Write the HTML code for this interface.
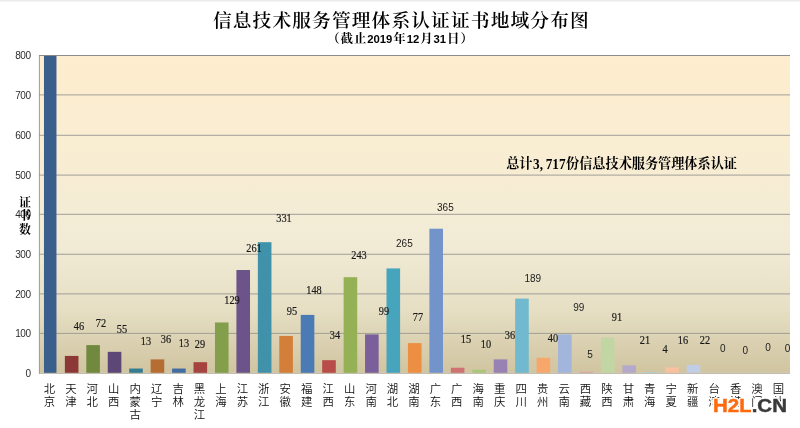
<!DOCTYPE html>
<html lang="zh-CN">
<head>
<meta charset="utf-8">
<title>信息技术服务管理体系认证证书地域分布图</title>
<style>
html,body{margin:0;padding:0;background:#fff;}
body{width:800px;height:428px;position:relative;overflow:hidden;font-family:"Liberation Sans","Noto Sans CJK SC",sans-serif;color:#000;}
.abs{position:absolute;white-space:nowrap;}
#topline{left:0;top:0;width:800px;height:2.4px;background:linear-gradient(#e8e8e8,#eeeeee 55%,#fff);}
#title{left:0.8px;width:800px;top:6.5px;text-align:center;font-family:"Liberation Serif","Noto Serif CJK SC",serif;font-weight:600;font-size:18.7px;line-height:28px;letter-spacing:1.15px;padding-left:1.15px;box-sizing:border-box;}
#sub{left:0;width:801px;top:30px;text-align:center;font-family:"Liberation Sans","Noto Serif CJK SC",serif;font-weight:700;font-size:12.4px;line-height:18px;letter-spacing:0.95px;}
#sub b{font-size:11.3px;letter-spacing:0;margin-right:0.95px;}
.yt{font-size:10px;line-height:12px;width:30.7px;left:0;text-align:right;color:#2e2e2e;letter-spacing:-0.4px;}
.ytitle{font-family:"Liberation Serif","Noto Serif CJK SC",serif;font-weight:700;font-size:12px;line-height:13.3px;left:13px;width:24px;text-align:center;white-space:normal;}
.cat{font-family:"Liberation Sans","Noto Sans CJK SC",sans-serif;font-weight:350;font-size:11.4px;line-height:13.0px;width:22px;text-align:center;white-space:normal;top:382.5px;color:#111;}
.dl{font-size:10px;line-height:12px;width:30px;text-align:center;color:#1c1c1c;}
.dl.s{font-family:"Liberation Serif",serif;font-size:12px;transform:scaleX(0.86);-webkit-text-stroke:0.2px #111;}
.dl.a{font-family:"Liberation Sans",sans-serif;font-size:10px;}
#note{left:506.2px;top:155.4px;font-family:"Liberation Serif","Noto Serif CJK SC",serif;font-weight:700;font-size:13.15px;line-height:18px;letter-spacing:0;}
#note .n{display:inline-block;width:33.6px;height:18px;vertical-align:top;}
#note .n i{display:inline-block;font-style:normal;font-size:15.6px;line-height:18px;transform-origin:0 50%;transform:scaleX(0.85);position:relative;top:-0.4px;left:0.5px;}
#note .n u{text-decoration:none;letter-spacing:3.2px;}
#wm{left:713.2px;top:394.2px;font-family:"Liberation Sans",sans-serif;font-weight:700;font-size:18px;line-height:24px;transform-origin:0 50%;transform:scaleX(1.137);-webkit-text-stroke:0.45px;text-shadow:0.88px 0.00px 0 #fff,0.76px 0.50px 0 #fff,0.44px 0.87px 0 #fff,0.00px 1.00px 0 #fff,-0.44px 0.87px 0 #fff,-0.76px 0.50px 0 #fff,-0.88px 0.00px 0 #fff,-0.76px -0.50px 0 #fff,-0.44px -0.87px 0 #fff,-0.00px -1.00px 0 #fff,0.44px -0.87px 0 #fff,0.76px -0.50px 0 #fff,1.50px 0.00px 0 #fff,1.29px 0.85px 0 #fff,0.75px 1.47px 0 #fff,0.00px 1.70px 0 #fff,-0.75px 1.47px 0 #fff,-1.29px 0.85px 0 #fff,-1.50px 0.00px 0 #fff,-1.29px -0.85px 0 #fff,-0.75px -1.47px 0 #fff,-0.00px -1.70px 0 #fff,0.75px -1.47px 0 #fff,1.29px -0.85px 0 #fff;}
#wm .o{color:#FF6A0F;}
#wm .g{color:#3a3a3a;}
</style>
</head>
<body>
<div class="abs" id="topline"></div>
<div class="abs" id="title">信息技术服务管理体系认证证书地域分布图</div>
<div class="abs" id="sub">（截止<b>2019</b>年<b>12</b>月<b>31</b>日）</div>

<svg class="abs" style="left:0;top:0" width="800" height="428" viewBox="0 0 800 428">
<defs><linearGradient id="pg" x1="0" y1="0" x2="0" y2="1"><stop offset="0" stop-color="#FEEDCE"/><stop offset="0.35" stop-color="#F8EDD3"/><stop offset="0.6" stop-color="#F1EBD6"/><stop offset="0.8" stop-color="#E6DFC4"/><stop offset="1" stop-color="#D0C4A0"/></linearGradient></defs>
<rect x="39.1" y="55.0" width="750.9" height="317.8" fill="url(#pg)"/>
<line x1="39.0" x2="790.0" y1="373.30" y2="373.30" stroke="#b4ad9c" stroke-width="1"/>
<line x1="39.0" x2="790.0" y1="333.40" y2="333.40" stroke="#a09e98" stroke-width="1"/>
<line x1="39.0" x2="790.0" y1="293.90" y2="293.90" stroke="#a09e98" stroke-width="1"/>
<line x1="39.0" x2="790.0" y1="254.25" y2="254.25" stroke="#a09e98" stroke-width="1"/>
<line x1="39.0" x2="790.0" y1="214.30" y2="214.30" stroke="#a09e98" stroke-width="1"/>
<line x1="39.0" x2="790.0" y1="175.10" y2="175.10" stroke="#a09e98" stroke-width="1"/>
<line x1="39.0" x2="790.0" y1="135.30" y2="135.30" stroke="#a09e98" stroke-width="1"/>
<line x1="39.0" x2="790.0" y1="94.90" y2="94.90" stroke="#a09e98" stroke-width="1"/>
<line x1="39.0" x2="790.0" y1="55.50" y2="55.50" stroke="#8c8c8c" stroke-width="1"/>
<line x1="39.4" x2="39.4" y1="55.0" y2="373.6" stroke="#97948a" stroke-width="0.9"/>
<rect x="43.97" y="55.90" width="12.50" height="316.90" fill="#3A5F8D"/>
<rect x="64.86" y="355.93" width="13.60" height="16.87" fill="#8C3836"/>
<rect x="86.31" y="345.10" width="13.60" height="27.70" fill="#71893F"/>
<rect x="107.75" y="351.85" width="13.60" height="20.95" fill="#5C4776"/>
<rect x="129.19" y="368.54" width="13.60" height="4.26" fill="#357D91"/>
<rect x="150.64" y="359.40" width="13.60" height="13.40" fill="#B66D31"/>
<rect x="172.08" y="368.54" width="13.60" height="4.26" fill="#426DA1"/>
<rect x="193.52" y="362.18" width="13.60" height="10.62" fill="#A44340"/>
<rect x="214.96" y="322.45" width="13.60" height="50.35" fill="#849F4B"/>
<rect x="236.41" y="270.02" width="13.60" height="102.78" fill="#6C548A"/>
<rect x="257.85" y="242.21" width="13.60" height="130.59" fill="#3F92A9"/>
<rect x="279.29" y="335.96" width="13.60" height="36.84" fill="#D37F3A"/>
<rect x="300.74" y="314.91" width="13.60" height="57.89" fill="#4B7BB4"/>
<rect x="322.18" y="360.19" width="13.60" height="12.61" fill="#B74C49"/>
<rect x="343.62" y="277.17" width="13.60" height="95.63" fill="#94B255"/>
<rect x="365.06" y="334.37" width="13.60" height="38.43" fill="#7A5F9A"/>
<rect x="386.51" y="268.43" width="13.60" height="104.37" fill="#47A4BD"/>
<rect x="407.95" y="343.11" width="13.60" height="29.69" fill="#EC8F42"/>
<rect x="429.39" y="228.70" width="13.60" height="144.10" fill="#7394CB"/>
<rect x="450.84" y="367.74" width="13.60" height="5.06" fill="#CE7371"/>
<rect x="472.28" y="369.73" width="13.60" height="3.07" fill="#ABC67A"/>
<rect x="493.72" y="359.40" width="13.60" height="13.40" fill="#9782B3"/>
<rect x="515.16" y="298.62" width="13.60" height="74.18" fill="#70B9CE"/>
<rect x="536.61" y="357.81" width="13.60" height="14.99" fill="#F8A76C"/>
<rect x="558.05" y="334.37" width="13.60" height="38.43" fill="#A2B5DA"/>
<rect x="579.49" y="371.71" width="13.60" height="1.09" fill="#DCA3A2"/>
<rect x="600.94" y="337.55" width="13.60" height="35.25" fill="#C2D6A4"/>
<rect x="622.38" y="365.36" width="13.60" height="7.44" fill="#B5A9CB"/>
<rect x="643.82" y="372.11" width="13.60" height="0.69" fill="#A0CFDD"/>
<rect x="665.26" y="367.34" width="13.60" height="5.46" fill="#F9C19D"/>
<rect x="686.71" y="364.96" width="13.60" height="7.84" fill="#C0CDE6"/>
</svg>
<div class="abs yt" style="top:367.8px">0</div>
<div class="abs yt" style="top:328.0px">100</div>
<div class="abs yt" style="top:288.5px">200</div>
<div class="abs yt" style="top:248.8px">300</div>
<div class="abs yt" style="top:208.9px">400</div>
<div class="abs yt" style="top:169.7px">500</div>
<div class="abs yt" style="top:129.9px">600</div>
<div class="abs yt" style="top:89.5px">700</div>
<div class="abs yt" style="top:50.1px">800</div>
<div class="abs ytitle" style="top:197px">证<br>书<br>数</div>
<div class="abs cat" style="left:38.4px">北<br>京</div>
<div class="abs cat" style="left:59.9px">天<br>津</div>
<div class="abs cat" style="left:81.3px">河<br>北</div>
<div class="abs cat" style="left:102.8px">山<br>西</div>
<div class="abs cat" style="left:124.2px">内<br>蒙<br>古</div>
<div class="abs cat" style="left:145.6px">辽<br>宁</div>
<div class="abs cat" style="left:167.1px">吉<br>林</div>
<div class="abs cat" style="left:188.5px">黑<br>龙<br>江</div>
<div class="abs cat" style="left:210.0px">上<br>海</div>
<div class="abs cat" style="left:231.4px">江<br>苏</div>
<div class="abs cat" style="left:252.8px">浙<br>江</div>
<div class="abs cat" style="left:274.3px">安<br>徽</div>
<div class="abs cat" style="left:295.7px">福<br>建</div>
<div class="abs cat" style="left:317.2px">江<br>西</div>
<div class="abs cat" style="left:338.6px">山<br>东</div>
<div class="abs cat" style="left:360.1px">河<br>南</div>
<div class="abs cat" style="left:381.5px">湖<br>北</div>
<div class="abs cat" style="left:402.9px">湖<br>南</div>
<div class="abs cat" style="left:424.4px">广<br>东</div>
<div class="abs cat" style="left:445.8px">广<br>西</div>
<div class="abs cat" style="left:467.3px">海<br>南</div>
<div class="abs cat" style="left:488.7px">重<br>庆</div>
<div class="abs cat" style="left:510.2px">四<br>川</div>
<div class="abs cat" style="left:531.6px">贵<br>州</div>
<div class="abs cat" style="left:553.1px">云<br>南</div>
<div class="abs cat" style="left:574.5px">西<br>藏</div>
<div class="abs cat" style="left:595.9px">陕<br>西</div>
<div class="abs cat" style="left:617.4px">甘<br>肃</div>
<div class="abs cat" style="left:638.8px">青<br>海</div>
<div class="abs cat" style="left:660.3px">宁<br>夏</div>
<div class="abs cat" style="left:681.7px">新<br>疆</div>
<div class="abs cat" style="left:703.2px">台<br>湾</div>
<div class="abs cat" style="left:724.6px">香<br>港</div>
<div class="abs cat" style="left:746.0px">澳<br>门</div>
<div class="abs cat" style="left:767.5px">国<br>外</div>
<div class="abs dl s" style="left:63.8px;top:320.0px">46</div>
<div class="abs dl s" style="left:86.4px;top:316.8px">72</div>
<div class="abs dl s" style="left:107.2px;top:322.8px">55</div>
<div class="abs dl s" style="left:131.2px;top:335.0px">13</div>
<div class="abs dl s" style="left:150.5px;top:333.3px">36</div>
<div class="abs dl s" style="left:168.5px;top:337.3px">13</div>
<div class="abs dl s" style="left:184.8px;top:337.8px">29</div>
<div class="abs dl s" style="left:216.5px;top:293.8px">129</div>
<div class="abs dl s" style="left:239.0px;top:242.3px">261</div>
<div class="abs dl s" style="left:269.2px;top:212.3px">331</div>
<div class="abs dl s" style="left:277.2px;top:305.3px">95</div>
<div class="abs dl s" style="left:299.0px;top:283.8px">148</div>
<div class="abs dl s" style="left:320.2px;top:329.1px">34</div>
<div class="abs dl s" style="left:344.2px;top:248.8px">243</div>
<div class="abs dl s" style="left:369.0px;top:305.3px">99</div>
<div class="abs dl a" style="left:389.4px;top:238.1px">265</div>
<div class="abs dl s" style="left:403.0px;top:310.8px">77</div>
<div class="abs dl a" style="left:430.4px;top:201.8px">365</div>
<div class="abs dl s" style="left:451.2px;top:332.8px">15</div>
<div class="abs dl s" style="left:471.2px;top:337.8px">10</div>
<div class="abs dl s" style="left:494.8px;top:328.8px">36</div>
<div class="abs dl a" style="left:517.8px;top:273.1px">189</div>
<div class="abs dl s" style="left:538.0px;top:332.2px">40</div>
<div class="abs dl a" style="left:563.8px;top:301.8px">99</div>
<div class="abs dl a" style="left:575.0px;top:349.2px">5</div>
<div class="abs dl s" style="left:601.8px;top:310.8px">91</div>
<div class="abs dl s" style="left:630.0px;top:334.3px">21</div>
<div class="abs dl s" style="left:650.0px;top:343.1px">4</div>
<div class="abs dl s" style="left:667.5px;top:334.1px">16</div>
<div class="abs dl s" style="left:690.2px;top:333.6px">22</div>
<div class="abs dl a" style="left:707.8px;top:342.8px">0</div>
<div class="abs dl a" style="left:730.2px;top:345.3px">0</div>
<div class="abs dl a" style="left:753.0px;top:341.8px">0</div>
<div class="abs dl a" style="left:772.5px;top:342.8px">0</div>
<div class="abs" id="note">总计<span class="n"><i>3<u>,</u>717</i></span>份信息技术服务管理体系认证</div>
<div class="abs" id="wm"><span class="o">H2L</span><span class="g">.CN</span></div>
</body>
</html>
